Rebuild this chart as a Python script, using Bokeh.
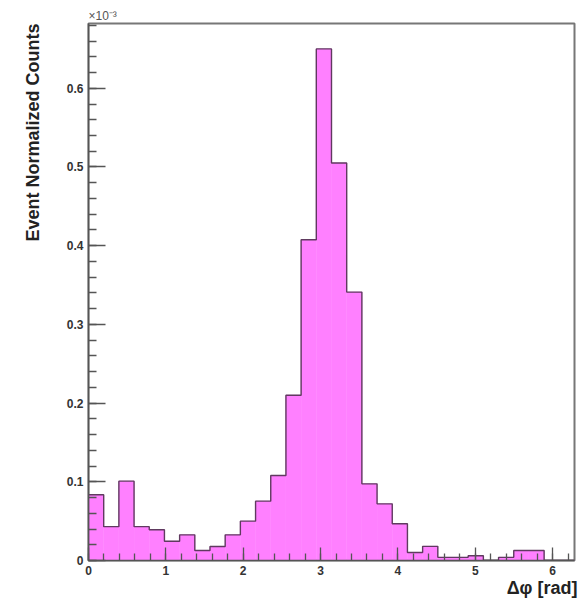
import numpy as np
from bokeh.plotting import figure
from bokeh.models import Range1d, FixedTicker, Title
from bokeh.embed import file_html
from bokeh.resources import INLINE

# ---- data (event-normalized counts, in units of 1e-3) ----
n_bins = 32
x_lo, x_hi = 0.0, 2 * np.pi
counts = [0.0835, 0.043, 0.1008, 0.043, 0.039, 0.0245, 0.0326, 0.0127,
          0.0178, 0.0326, 0.050, 0.0754, 0.108, 0.210, 0.4075, 0.650,
          0.505, 0.341, 0.0974, 0.072, 0.0466, 0.0102, 0.018, 0.004,
          0.004, 0.006, 0.0, 0.004, 0.0127, 0.0127, 0.0, 0.0]
x_ticks = [0, 1, 2, 3, 4, 5, 6]
y_ticks = [0.0, 0.1, 0.2, 0.3, 0.4, 0.5, 0.6]
y_tick_labels = ["0", "0.1", "0.2", "0.3", "0.4", "0.5", "0.6"]
y_max = 0.6823

edges = np.linspace(x_lo, x_hi, n_bins + 1)

FILL = "#ff80ff"
EDGE = "#603a60"
FONT = "Liberation Sans"

p = figure(width=579, height=604,
           x_range=Range1d(x_lo, x_hi), y_range=Range1d(0, y_max),
           output_backend="svg", toolbar_location=None,
           min_border_left=87, min_border_right=5,
           min_border_top=23, min_border_bottom=44)
p.grid.visible = False
p.background_fill_color = "white"
p.border_fill_color = "white"
p.outline_line_color = "#777777"
p.outline_line_width = 2

# histogram fill
p.quad(left=edges[:-1], right=edges[1:], top=counts, bottom=0,
       fill_color=FILL, line_color=FILL, line_width=0.5)

# staircase outline
xs = [edges[0]]
ys = [0.0]
for i, c in enumerate(counts):
    xs += [edges[i], edges[i + 1]]
    ys += [c, c]
xs.append(edges[-1])
ys.append(0.0)
p.line(xs, ys, line_color=EDGE, line_width=1.4)

# axes (ROOT style: inward ticks)
p.xaxis.ticker = FixedTicker(ticks=x_ticks,
                             minor_ticks=list(np.round(np.arange(0, 6.3, 0.2), 2)))
p.yaxis.ticker = FixedTicker(ticks=y_ticks,
                             minor_ticks=list(np.round(np.arange(0, 0.681, 0.02), 3)))
p.yaxis.major_label_overrides = {t: s for t, s in zip(y_ticks, y_tick_labels)}

for ax in (p.xaxis, p.yaxis):
    ax.axis_line_color = "#555555"
    ax.axis_line_width = 1.5
    ax.major_tick_line_color = "#555555"
    ax.minor_tick_line_color = "#555555"
    ax.major_tick_line_width = 1.3
    ax.minor_tick_line_width = 1.3
    ax.major_tick_out = 0
    ax.minor_tick_out = 0
    ax.major_label_text_font = FONT
    ax.major_label_text_font_style = "bold"
    ax.major_label_text_font_size = "12px"
    ax.major_label_text_color = "#333333"
    ax.major_label_standoff = 5

p.xaxis.major_tick_in = 13
p.xaxis.minor_tick_in = 7
p.yaxis.major_tick_in = 17
p.yaxis.minor_tick_in = 8

# axis titles (ROOT style: aligned to the axis end)
p.add_layout(Title(text="Event Normalized Counts", align="right",
                   text_font=FONT, text_font_style="bold",
                   text_font_size="18px", text_color="#222222",
                   standoff=41, offset=0), "left")
p.add_layout(Title(text="\u0394\u03c6 [rad]", align="right",
                   text_font=FONT, text_font_style="bold",
                   text_font_size="18px", text_color="#222222",
                   standoff=-4, offset=-3), "below")
p.add_layout(Title(text="\u00d710\u207b\u00b3", align="left",
                   text_font=FONT, text_font_style="normal",
                   text_font_size="12px", text_color="#555555",
                   standoff=1, offset=0), "above")

open("out.html", "w").write(file_html(p, INLINE))
